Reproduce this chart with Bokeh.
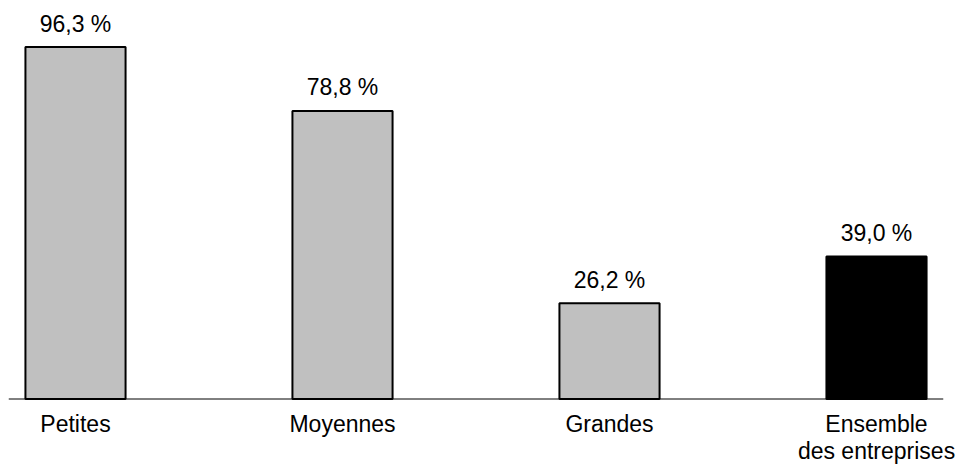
from bokeh.plotting import figure
from bokeh.models import Range1d, ColumnDataSource
from bokeh.core.properties import value
from bokeh.embed import file_html
from bokeh.resources import INLINE

categories = ["Petites", "Moyennes", "Grandes", "Ensemble\ndes entreprises"]
values = [96.3, 78.8, 26.2, 39.0]
colors = ["#c0c0c0", "#c0c0c0", "#c0c0c0", "#000000"]

positions = list(range(len(categories)))
labels = [f"{v:.1f}".replace(".", ",") + " %" for v in values]

src = ColumnDataSource(dict(x=positions, top=values, color=colors, label=labels))

# category label lines (multi-line labels split into rows)
cx, cline, ctext = [], [], []
for pos, cat in zip(positions, categories):
    for i, line in enumerate(cat.split("\n")):
        cx.append(pos)
        cline.append(i)
        ctext.append(line)
cat_src = ColumnDataSource(dict(x=cx, y=[0] * len(cx), text=ctext,
                                yoff=[25 + 27 * i for i in cline]))

FONT = value("Liberation Sans")

p = figure(width=958, height=464, output_backend="svg", toolbar_location=None,
           x_range=Range1d(-0.2809, 3.3071), y_range=Range1d(-17.92, 109.03),
           min_border_left=0, min_border_right=0, min_border_top=0, min_border_bottom=0)
p.outline_line_color = None
p.background_fill_color = "white"
p.border_fill_color = "white"
p.xgrid.visible = False
p.ygrid.visible = False
p.xaxis.visible = False
p.yaxis.visible = False

# baseline (category axis line)
p.segment(x0=[positions[0] - 0.25], x1=[positions[-1] + 0.25], y0=[0], y1=[0],
          line_color="black", line_width=1)

p.vbar(x="x", top="top", bottom=0, width=0.375, source=src,
       fill_color="color", line_color="black", line_width=2)

p.text(x="x", y="top", text="label", source=src, y_offset=-23.5,
       text_align="center", text_baseline="alphabetic",
       text_font=FONT, text_font_size="23px", text_color="black")

p.text(x="x", y="y", text="text", source=cat_src, y_offset="yoff",
       text_align="center", text_baseline="alphabetic",
       text_font=FONT, text_font_size="23px", text_color="black")

open("out.html", "w").write(file_html(p, INLINE))
